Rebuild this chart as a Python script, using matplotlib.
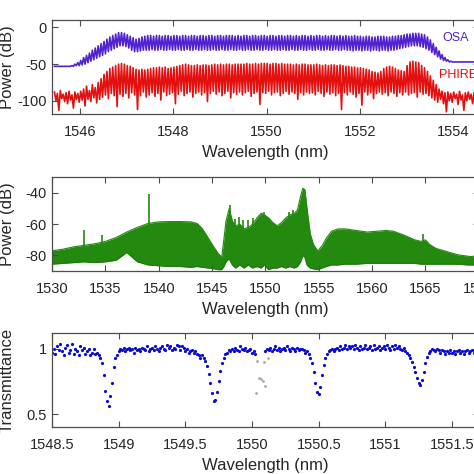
import numpy as np
import matplotlib
matplotlib.use("Agg")
import matplotlib.pyplot as plt
from matplotlib.ticker import FormatStrFormatter

plt.rcParams['font.family'] = ['Liberation Sans', 'DejaVu Sans']
plt.rcParams['axes.unicode_minus'] = False

# ---- panel 1: comb spectra (one peak and one valley per comb tooth) ----
comb_start = 1545.45
comb_step = 0.0625
osa_peak = [
    -53, -53, -53, -53, -53, -53, -52, -50,
    -48, -45, -41, -38, -35, -31, -28, -25,
    -22, -19, -16, -13, -11, -9, -7, -7,
    -8, -10, -12, -14, -16, -15, -13, -12,
    -11, -11, -12, -11, -11, -12, -11, -11,
    -12, -11, -11, -12, -11, -11, -12, -11,
    -11, -12, -11, -11, -12, -11, -11, -12,
    -11, -11, -12, -11, -11, -11, -12, -11,
    -12, -11, -11, -12, -11, -11, -12, -11,
    -11, -12, -11, -11, -12, -11, -11, -12,
    -11, -11, -12, -11, -12, -11, -11, -12,
    -11, -12, -11, -11, -12, -11, -12, -11,
    -11, -12, -11, -12, -11, -12, -12, -11,
    -12, -12, -13, -12, -12, -13, -13, -12,
    -12, -12, -13, -13, -12, -12, -11, -11,
    -10, -9, -9, -8, -8, -8, -9, -10,
    -13, -17, -22, -27, -32, -37, -41, -44,
    -46, -47, -47, -47, -47, -47, -47, -47,
    -47, -47, -47, -47]
osa_valley = [
    -53, -53, -53, -53, -53, -53, -53, -52,
    -52, -51, -50, -48, -46, -44, -42, -40,
    -38, -36, -33, -31, -29, -27, -25, -25,
    -26, -28, -31, -33, -33, -32, -31, -31,
    -31, -30, -31, -31, -30, -31, -31, -30,
    -31, -31, -30, -31, -31, -30, -31, -31,
    -30, -31, -31, -30, -31, -31, -30, -31,
    -31, -30, -31, -31, -30, -31, -31, -30,
    -31, -31, -30, -31, -31, -30, -31, -31,
    -30, -31, -31, -30, -31, -31, -30, -31,
    -31, -30, -31, -31, -30, -31, -31, -30,
    -31, -31, -30, -31, -31, -30, -31, -31,
    -30, -31, -31, -30, -31, -31, -32, -31,
    -31, -32, -31, -31, -32, -31, -31, -32,
    -31, -31, -32, -31, -31, -30, -29, -28,
    -27, -26, -25, -25, -25, -26, -27, -29,
    -31, -34, -37, -40, -43, -45, -46, -47,
    -47, -47, -47, -47, -47, -47, -47, -47,
    -47, -47, -47, -47]
phire_peak = [
    -88, -90, -86, -91, -89, -87, -92, -88,
    -90, -87, -84, -80, -86, -78, -82, -75,
    -70, -64, -60, -56, -54, -52, -50, -49,
    -50, -52, -53, -55, -57, -58, -57, -58,
    -57, -56, -55, -55, -54, -55, -54, -56,
    -55, -54, -53, -52, -51, -50, -51, -52,
    -52, -51, -52, -51, -51, -52, -51, -50,
    -51, -50, -51, -50, -50, -51, -50, -50,
    -50, -50, -49, -50, -50, -49, -50, -49,
    -49, -49, -50, -49, -49, -50, -49, -50,
    -50, -50, -51, -50, -51, -50, -50, -51,
    -51, -51, -50, -51, -52, -51, -52, -51,
    -51, -52, -51, -52, -53, -53, -54, -54,
    -55, -55, -56, -57, -58, -60, -61, -62,
    -60, -56, -54, -53, -54, -56, -58, -59,
    -60, -52, -47, -46, -47, -48, -52, -55,
    -60, -66, -72, -78, -84, -87, -89, -88,
    -90, -88, -91, -87, -92, -89, -88, -91,
    -89, -92, -88, -90]
phire_valley = [
    -100, -113, -97, -101, -104, -99, -110, -98,
    -102, -99, -107, -98, -101, -96, -103, -98,
    -95, -92, -97, -90, -93, -108, -91, -94,
    -90, -96, -89, -92, -112, -93, -88, -95,
    -92, -89, -94, -90, -99, -88, -93, -91,
    -89, -104, -91, -87, -93, -90, -88, -95,
    -90, -88, -92, -89, -101, -90, -87, -91,
    -88, -93, -90, -87, -96, -89, -91, -88,
    -92, -89, -87, -94, -90, -88, -105, -89,
    -90, -87, -92, -89, -88, -93, -90, -87,
    -91, -88, -90, -98, -89, -92, -88, -90,
    -89, -92, -87, -90, -94, -88, -91, -89,
    -93, -90, -112, -89, -92, -88, -91, -95,
    -90, -106, -88, -92, -89, -97, -90, -88,
    -91, -89, -93, -88, -90, -94, -89, -92,
    -88, -92, -90, -89, -95, -88, -91, -90,
    -93, -96, -99, -102, -98, -104, -115, -100,
    -102, -97, -105, -99, -113, -100, -98, -104,
    -99, -103, -98, -101]

# ---- panel 2: broadband spectrum envelope ----
green_x = [1530, 1531, 1532, 1533, 1534, 1535, 1536, 1537, 1538, 1539,
           1540, 1541, 1542, 1543, 1543.6, 1544.1, 1544.7, 1545.2, 1545.6, 1545.9,
           1546.1, 1546.3, 1546.6, 1546.9, 1547.2, 1547.6, 1548.0, 1548.4, 1548.8, 1549.2,
           1549.6, 1549.9, 1550.3, 1550.7, 1551.1, 1551.5, 1551.9, 1552.3, 1552.7, 1553.0,
           1553.3, 1553.5, 1553.7, 1553.9, 1554.2, 1554.5, 1554.9, 1555.3, 1555.7, 1556.2,
           1556.8, 1557.5, 1558.5, 1559.5, 1560.5, 1561.3, 1562, 1563, 1564, 1564.6,
           1565.0, 1565.4, 1566, 1567, 1568, 1569, 1570]
green_upper = [-77, -76, -74.5, -73.5, -72.5, -71, -68.5, -65, -62, -59.5,
               -58.5, -58.3, -58.3, -58.5, -59.5, -63, -69.5, -75, -79, -81,
               -70, -58, -50, -58, -61, -60, -63, -62, -60, -56,
               -53, -54, -56, -59, -61, -59, -56, -54, -53, -51,
               -42, -37, -38, -50, -66, -73, -77, -74, -69, -64.5,
               -63, -63, -64, -65, -64.5, -64, -64.5, -67, -70, -71,
               -70, -73, -75.5, -77.5, -79.5, -80.5, -81]
green_lower = [-85.5, -85, -84.5, -84, -84.5, -84, -83, -78, -84, -86,
               -86.5, -87, -87, -87.5, -87, -87.5, -88, -88.5, -89, -89,
               -87, -84, -82, -86, -88, -86, -88, -86, -88, -87,
               -88, -86, -89, -88, -88, -87, -88, -87, -88, -87,
               -84, -80, -81, -86, -88, -88.5, -89, -88, -87, -86,
               -86, -85.5, -85.5, -85, -85, -85, -85, -85, -85, -85.5,
               -85.5, -85.5, -85.5, -85.5, -85.5, -86, -86]
spike_x = [1533.0, 1534.7, 1539.05, 1546.65, 1547.1, 1547.5, 1547.9,
           1548.4, 1548.8, 1549.9, 1552.2, 1552.6, 1552.9, 1564.8]
spike_top = [-63.5, -67, -41, -48, -56.5, -55.5, -57.5,
             -57, -56, -52, -52, -51, -53, -66.5]

# ---- panel 3: transmittance, sampled every 0.0125 nm from 1548.5 ----
trans_start = 1548.5
trans_step = 0.0125
nan = np.nan
trans = [
    0.97, 1.00, 0.96, 1.02, 0.99, 1.04, 0.98, 0.95, 1.01, 1.03,
    0.97, 0.99, 1.04, 0.96, 1.00, 0.98, 0.95, 1.02, 0.99, 1.01,
    0.96, 0.98, 1.00, 0.95, 0.97, 1.00, 0.96, 0.97, 0.95, 0.93,
    0.89, 0.80, 0.68, 0.60, 0.56, 0.64, 0.74, 0.86, 0.93, 0.95,
    0.98, 1.00, 0.99, 1.01, 0.98, 1.00, 1.01, 0.99, 1.00, 0.97,
    1.01, 0.99, 1.00, 0.98, 1.01, 1.00, 0.99, 1.02, 0.98, 1.00,
    1.01, 0.99, 1.02, 1.00, 0.98, 1.01, 1.02, 1.00, 0.99, 1.03,
    1.01, 1.02, 0.99, 1.01, 1.00, 1.03, 1.02, 0.99, 1.02, 1.01,
    0.98, 1.00, 0.97, 0.98, 0.99, 0.97, 0.98, 0.96, 0.95, 0.93,
    0.95, 0.93, 0.91, 0.87, 0.81, 0.74, 0.66, 0.60, 0.61, 0.67,
    0.75, 0.83, 0.89, 0.93, 0.96, 0.97, 0.99, 0.98, 1.00, 0.98,
    1.01, 0.99, 0.98, 1.02, 1.00, 0.99, 1.01, 0.98, 0.99, 1.00,
    0.97, 0.98, 0.96, nan, nan, nan, nan, nan, 0.98, 1.00,
    0.99, 1.01, 0.98, 1.00, 1.02, 0.99, 1.01, 0.98, 1.00, 1.01,
    0.99, 1.02, 1.00, 0.98, 1.01, 1.00, 0.98, 1.01, 0.99, 1.00,
    1.00, 0.99, 0.97, 0.98, 0.96, 0.93, 0.89, 0.82, 0.74, 0.67,
    0.65, 0.71, 0.80, 0.88, 0.93, 0.96, 0.98, 0.99, 1.00, 0.98,
    1.00, 1.01, 0.99, 1.02, 1.00, 1.01, 1.03, 1.00, 1.02, 1.01,
    1.02, 1.00, 1.03, 1.01, 0.99, 1.02, 1.00, 1.01, 1.03, 1.00,
    1.01, 1.02, 0.99, 1.03, 1.00, 1.01, 1.02, 0.99, 1.01, 1.02,
    1.00, 1.03, 1.01, 0.99, 1.02, 1.00, 1.03, 1.01, 1.02, 1.00,
    0.99, 1.01, 0.98, 0.97, 0.95, 0.93, 0.90, 0.86, 0.82, 0.78,
    0.74, 0.72, 0.76, 0.82, 0.89, 0.94, 0.97, 0.98, 1.00, 0.99,
    0.98, 1.00, 0.99, 0.97, 0.99, 0.98, 0.96, 0.98, 0.97, 0.99,
    0.97, 0.98, 0.96, 0.98, 0.99, 0.97, 0.98, 0.96, 0.98, 0.99,
    0.97, 0.98, 0.99, 0.97, 0.98, 1.00, 0.98]
outlier_x = [1550.03, 1550.04, 1550.053, 1550.068, 1550.08, 1550.09, 1550.1, 1550.118]
outlier_y = [0.66, 0.91, 0.78, 0.77, 0.75, 0.90, 0.715, 0.93]

text_col = '#262626'
spine_col = '#4d4d4d'


def comb_trace(peaks, valleys):
    n = len(peaks)
    xp = comb_start + comb_step * np.arange(n)
    xs = np.empty(2 * n)
    ys = np.empty(2 * n)
    xs[0::2] = xp
    xs[1::2] = xp + comb_step / 2
    ys[0::2] = peaks
    ys[1::2] = valleys
    return xs, ys


def style(ax):
    ax.tick_params(direction='in', top=True, right=True, length=4.5, width=0.8,
                   labelsize=10.5, colors=spine_col, labelcolor=text_col)
    ax.tick_params(axis='x', pad=8)
    ax.tick_params(axis='y', pad=4)
    for s in ax.spines.values():
        s.set_color(spine_col)
        s.set_linewidth(0.9)
    ax.set_xlabel('Wavelength (nm)', fontsize=12, color=text_col)
    ax.xaxis.set_label_coords(0.5, -0.33)


fig = plt.figure(figsize=(4.74, 4.74), dpi=100)
ax1 = fig.add_axes([0.11, 0.7595, 0.90, 0.198])
ax2 = fig.add_axes([0.11, 0.428, 0.90, 0.198])
ax3 = fig.add_axes([0.11, 0.099, 0.90, 0.198])

# panel 1
x, y = comb_trace(osa_peak, osa_valley)
ax1.plot(x, y, color='#5222cf', lw=1.2)
x, y = comb_trace(phire_peak, phire_valley)
ax1.plot(x, y, color='#e31010', lw=1.2)
ax1.set_xlim(1545.4, 1554.55)
ax1.set_ylim(-118, 10)
ax1.set_xticks([1546, 1548, 1550, 1552, 1554])
ax1.set_yticks([-100, -50, 0])
ax1.text(1553.78, -14, 'OSA', color='#5222cf', fontsize=9, ha='left', va='center')
ax1.text(1553.69, -64.5, 'PHIRE', color='#e31010', fontsize=9, ha='left', va='center')
style(ax1)
ax1.set_ylabel('Power (dB)', fontsize=12, color=text_col)
ax1.yaxis.set_label_coords(-0.088, 0.5)

# panel 2
ax2.fill_between(green_x, green_lower, green_upper, color='#23890f', lw=0)
ax2.plot(green_x, green_upper, color='#23890f', lw=0.8)
ax2.plot(green_x, green_lower, color='#1f7d0d', lw=1.0)
ax2.vlines(spike_x, -80, spike_top, color='#23890f', lw=1.2)
ax2.set_xlim(1530, 1570)
ax2.set_ylim(-90, -30)
ax2.set_xticks(np.arange(1530, 1571, 5))
ax2.set_yticks([-80, -60, -40])
style(ax2)
ax2.set_ylabel('Power (dB)', fontsize=12, color=text_col)
ax2.yaxis.set_label_coords(-0.088, 0.5)

# panel 3
tx = trans_start + trans_step * np.arange(len(trans))
ax3.plot(outlier_x, outlier_y, 'o', color='#a8a8a8', ms=2.0, mew=0)
ax3.plot(tx, trans, 'o', color='#0a0ad0', ms=2.3, mew=0)
ax3.set_xlim(1548.5, 1551.7)
ax3.set_ylim(0.4, 1.12)
ax3.set_xticks([1548.5, 1549, 1549.5, 1550, 1550.5, 1551, 1551.5])
ax3.set_yticks([0.5, 1])
ax3.xaxis.set_major_formatter(FormatStrFormatter('%g'))
ax3.yaxis.set_major_formatter(FormatStrFormatter('%g'))
style(ax3)
ax3.set_ylabel('Transmittance', fontsize=12, color=text_col)
ax3.yaxis.set_label_coords(-0.088, 0.5)

fig.savefig('out.png', dpi=100)
